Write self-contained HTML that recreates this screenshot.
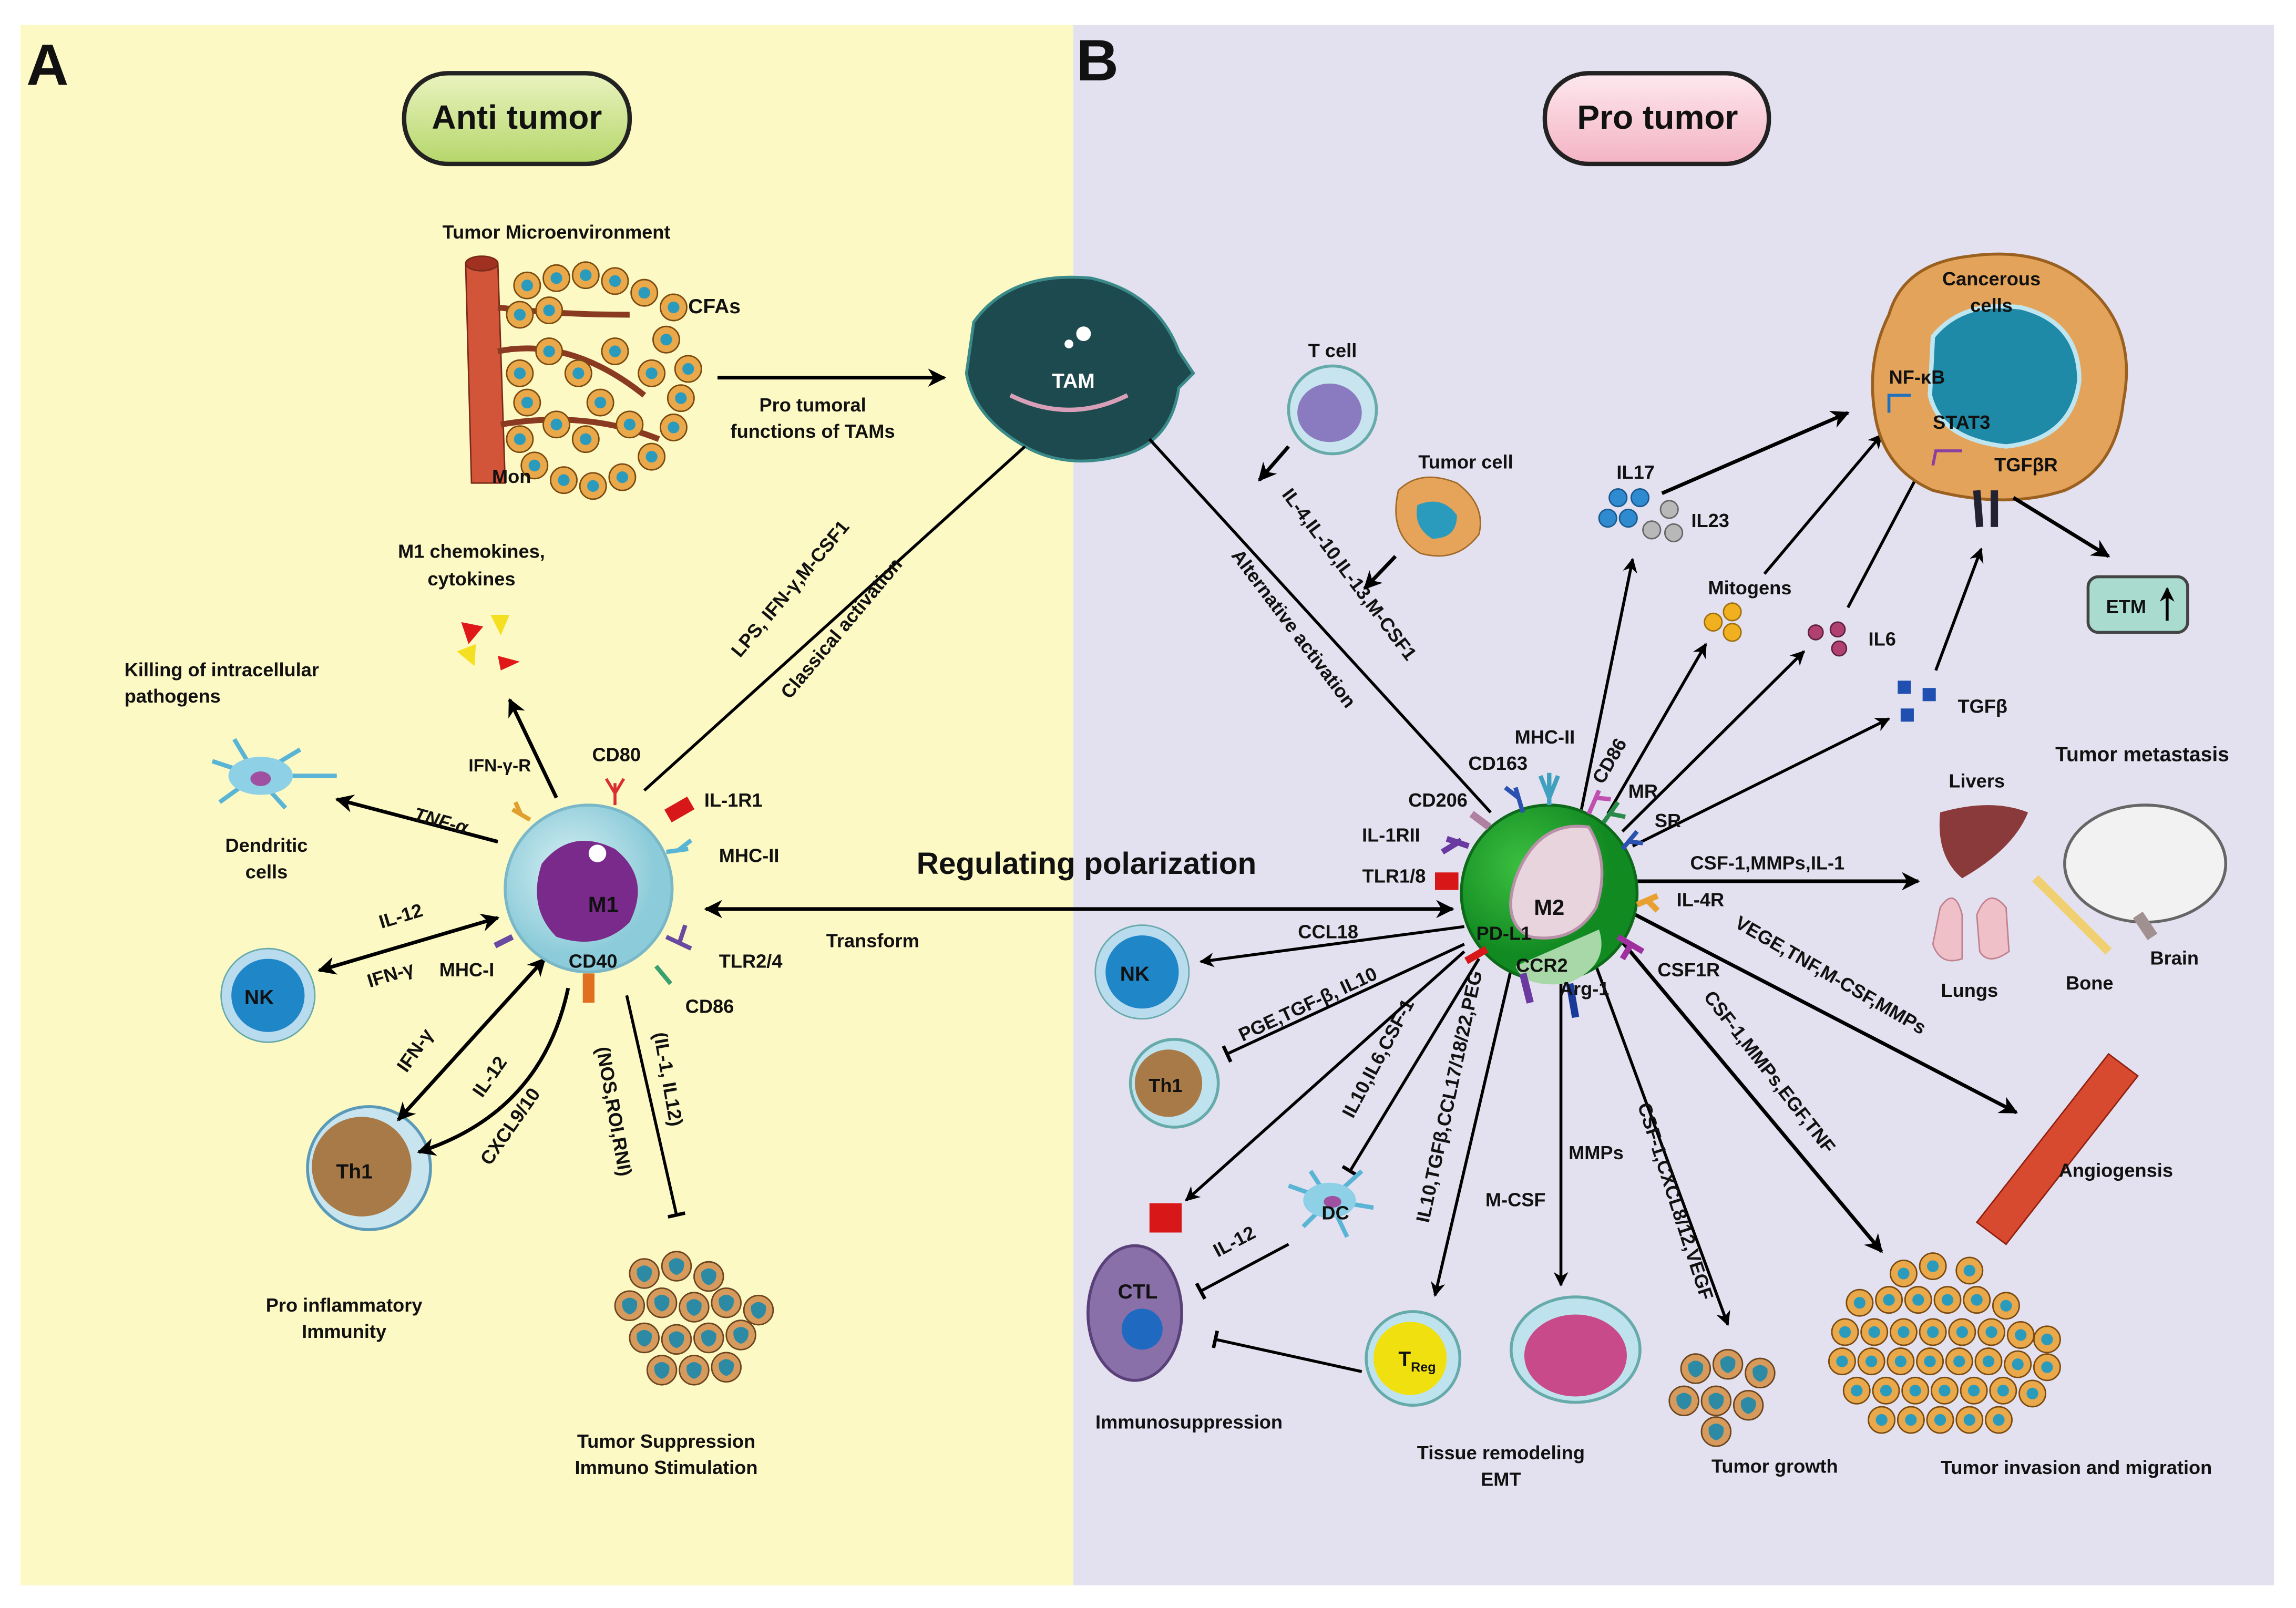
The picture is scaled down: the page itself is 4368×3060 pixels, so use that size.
<!DOCTYPE html>
<html><head><meta charset="utf-8"><style>
html,body{margin:0;padding:0;background:#fff}
svg{display:block}
text{font-family:"Liberation Sans",sans-serif;font-weight:bold;fill:#111}
</style></head><body>
<svg width="4368" height="3060" viewBox="0 0 1568 1098.5" preserveAspectRatio="none" xmlns="http://www.w3.org/2000/svg">
<defs>
<marker id="a" viewBox="0 0 10 10" refX="9" refY="5" markerWidth="5" markerHeight="5" orient="auto-start-reverse"><path d="M0,0 L10,5 L0,10 L3,5z" fill="#000"/></marker>
<marker id="t" viewBox="0 0 10 10" refX="5" refY="5" markerWidth="6" markerHeight="6" orient="auto"><path d="M5,0 L5,10" stroke="#000" stroke-width="2"/></marker>
<radialGradient id="m1g" cx="40%" cy="40%"><stop offset="0" stop-color="#d8f0f4"/><stop offset="1" stop-color="#8ccbd9"/></radialGradient>
<radialGradient id="m2g" cx="35%" cy="35%"><stop offset="0" stop-color="#3cc040"/><stop offset="1" stop-color="#128a22"/></radialGradient>
<linearGradient id="ag" x1="0" y1="0" x2="0" y2="1"><stop offset="0" stop-color="#eaf3c0"/><stop offset="1" stop-color="#b5d66a"/></linearGradient>
<linearGradient id="pg" x1="0" y1="0" x2="0" y2="1"><stop offset="0" stop-color="#fde8ee"/><stop offset="1" stop-color="#f4b3c4"/></linearGradient>
<g id="tc"><circle r="9" fill="#e9a84a" stroke="#7a4a10" stroke-width="1"/><circle r="4" fill="#2a9bbd"/></g>
<g id="tc2"><circle r="10" fill="#d59a5c" stroke="#6b4520" stroke-width="1"/><path d="M-5,-3 Q0,-8 5,-3 Q6,4 0,6 Q-6,4 -5,-3z" fill="#2d8aa5"/></g>
</defs>
<rect x="0" y="0" width="1568" height="1098.5" fill="#fff"/>
<rect x="14" y="17" width="719" height="1066" fill="#fdf9c5"/>
<rect x="733" y="17" width="820" height="1066" fill="#e3e1ef"/>
<text x="18" y="58" font-size="40">A</text>
<text x="735" y="55" font-size="40">B</text>
<rect x="276" y="50" width="154" height="62" rx="30" fill="url(#ag)" stroke="#222" stroke-width="3"/>
<text x="353" y="88" font-size="23" text-anchor="middle">Anti tumor</text>
<rect x="1055" y="50" width="153" height="62" rx="30" fill="url(#pg)" stroke="#222" stroke-width="3"/>
<text x="1132" y="88" font-size="23" text-anchor="middle">Pro tumor</text>

<!-- TME -->
<text x="380" y="163" font-size="13" text-anchor="middle">Tumor Microenvironment</text>
<path d="M318,180 L340,180 L345,330 L322,330 Z" fill="#d2553a" stroke="#7a2a18"/>
<ellipse cx="329" cy="180" rx="11" ry="5" fill="#a03020" stroke="#7a2a18"/>
<g stroke="#8a3a20" stroke-width="4" fill="none"><path d="M340,240 Q390,230 440,270"/><path d="M342,290 Q400,280 450,300"/><path d="M340,210 Q380,215 430,215"/></g>
<g>
<use href="#tc" x="360" y="195"/><use href="#tc" x="380" y="190"/><use href="#tc" x="400" y="188"/><use href="#tc" x="420" y="192"/><use href="#tc" x="440" y="200"/><use href="#tc" x="460" y="210"/>
<use href="#tc" x="355" y="215"/><use href="#tc" x="375" y="212"/><use href="#tc" x="455" y="232"/><use href="#tc" x="470" y="252"/><use href="#tc" x="465" y="272"/><use href="#tc" x="460" y="292"/>
<use href="#tc" x="355" y="255"/><use href="#tc" x="360" y="275"/><use href="#tc" x="355" y="300"/><use href="#tc" x="365" y="318"/><use href="#tc" x="385" y="328"/><use href="#tc" x="405" y="332"/>
<use href="#tc" x="425" y="326"/><use href="#tc" x="445" y="312"/><use href="#tc" x="375" y="240"/><use href="#tc" x="395" y="255"/><use href="#tc" x="420" y="240"/><use href="#tc" x="430" y="290"/>
<use href="#tc" x="400" y="300"/><use href="#tc" x="445" y="255"/><use href="#tc" x="380" y="290"/><use href="#tc" x="410" y="275"/>
</g>
<text x="470" y="214" font-size="14">CFAs</text>
<text x="336" y="330" font-size="13">Mon</text>
<line x1="490" y1="258" x2="645" y2="258" stroke="#000" stroke-width="2.5" marker-end="url(#a)"/>
<text x="555" y="281" font-size="13" text-anchor="middle">Pro tumoral</text>
<text x="555" y="299" font-size="13" text-anchor="middle">functions of TAMs</text>

<!-- TAM -->
<path d="M665,220 Q690,185 745,190 Q790,200 805,240 L815,255 L805,265 Q800,300 770,310 Q730,322 700,305 Q665,285 660,255 Z" fill="#1d4a4e" stroke="#3a8a8a" stroke-width="2"/>
<path d="M690,270 Q730,290 770,270" stroke="#d8a0b8" stroke-width="3" fill="none"/>
<circle cx="740" cy="228" r="5" fill="#fff"/><circle cx="730" cy="235" r="3" fill="#fff"/>
<text x="733" y="265" font-size="14" text-anchor="middle" style="fill:#fff">TAM</text>

<line x1="700" y1="305" x2="440" y2="540" stroke="#000" stroke-width="2"/>
<text transform="translate(543,405) rotate(-50)" font-size="13" text-anchor="middle">LPS, IFN-γ,M-CSF1</text>
<text transform="translate(578,432) rotate(-50)" font-size="13" text-anchor="middle">Classical activation</text>
<line x1="785" y1="300" x2="1018" y2="555" stroke="#000" stroke-width="2"/>
<text transform="translate(918,395) rotate(53)" font-size="13" text-anchor="middle">IL-4,IL-10,IL-13,M-CSF1</text>
<text transform="translate(880,432) rotate(53)" font-size="13" text-anchor="middle">Alternative activation</text>

<!-- Left side -->
<text x="322" y="381" font-size="13" text-anchor="middle">M1 chemokines,</text>
<text x="322" y="400" font-size="13" text-anchor="middle">cytokines</text>
<polygon points="315,425 330,428 320,440" fill="#e01818"/><polygon points="335,420 348,420 342,434" fill="#f4e020"/>
<polygon points="312,445 325,440 324,455" fill="#f4e020"/><polygon points="340,448 355,452 342,458" fill="#e01818"/>
<line x1="380" y1="545" x2="348" y2="478" stroke="#000" stroke-width="2.5" marker-end="url(#a)"/>
<text x="85" y="462" font-size="13">Killing of intracellular</text>
<text x="85" y="480" font-size="13">pathogens</text>
<g stroke="#5ab5d5" stroke-width="3" fill="none"><path d="M175,530 L145,520"/><path d="M175,530 L160,505"/><path d="M175,530 L205,512"/><path d="M175,530 L230,530"/><path d="M175,530 L195,552"/><path d="M175,530 L150,548"/></g>
<ellipse cx="178" cy="530" rx="22" ry="13" fill="#8ed0e6"/><ellipse cx="178" cy="532" rx="7" ry="5" fill="#a050a0"/>
<text x="182" y="582" font-size="13" text-anchor="middle">Dendritic</text>
<text x="182" y="600" font-size="13" text-anchor="middle">cells</text>
<line x1="340" y1="575" x2="230" y2="546" stroke="#000" stroke-width="2.5" marker-end="url(#a)"/>
<text transform="translate(300,565) rotate(15)" font-size="13" text-anchor="middle" font-style="italic">TNF-α</text>

<circle cx="183" cy="680" r="32" fill="#b9dbee" stroke="#6aa"/><circle cx="183" cy="680" r="25" fill="#1f86c8"/>
<text x="177" y="686" font-size="14" text-anchor="middle">NK</text>
<line x1="218" y1="663" x2="340" y2="627" stroke="#000" stroke-width="2.5" marker-start="url(#a)" marker-end="url(#a)"/>
<text transform="translate(275,630) rotate(-17)" font-size="13" text-anchor="middle">IL-12</text>
<text transform="translate(268,670) rotate(-17)" font-size="13" text-anchor="middle">IFN-γ</text>

<circle cx="252" cy="798" r="42" fill="#c8e4ef" stroke="#5a9ab8" stroke-width="2"/><circle cx="247" cy="797" r="34" fill="#a87a48"/>
<text x="242" y="805" font-size="14" text-anchor="middle">Th1</text>
<line x1="372" y1="655" x2="272" y2="765" stroke="#000" stroke-width="2.5" marker-start="url(#a)" marker-end="url(#a)"/>
<path d="M388,675 Q370,760 286,787" stroke="#000" stroke-width="2.5" fill="none" marker-end="url(#a)"/>
<text transform="translate(287,720) rotate(-55)" font-size="13" text-anchor="middle">IFN-γ</text>
<text transform="translate(338,738) rotate(-55)" font-size="13" text-anchor="middle">IL-12</text>
<text transform="translate(352,772) rotate(-55)" font-size="13" text-anchor="middle">CXCL9/10</text>
<text x="235" y="896" font-size="13" text-anchor="middle">Pro inflammatory</text>
<text x="235" y="914" font-size="13" text-anchor="middle">Immunity</text>

<line x1="428" y1="680" x2="462" y2="830" stroke="#000" stroke-width="2" marker-end="url(#t)"/>
<text transform="translate(415,760) rotate(80)" font-size="13" text-anchor="middle">(NOS,ROI,RNI)</text>
<text transform="translate(452,738) rotate(80)" font-size="13" text-anchor="middle">(IL-1, IL12)</text>
<g>
<use href="#tc2" x="440" y="870"/><use href="#tc2" x="462" y="865"/><use href="#tc2" x="484" y="872"/><use href="#tc2" x="430" y="892"/><use href="#tc2" x="452" y="890"/><use href="#tc2" x="474" y="893"/><use href="#tc2" x="496" y="890"/><use href="#tc2" x="518" y="895"/><use href="#tc2" x="440" y="914"/><use href="#tc2" x="462" y="915"/><use href="#tc2" x="484" y="914"/><use href="#tc2" x="506" y="912"/><use href="#tc2" x="452" y="936"/><use href="#tc2" x="474" y="936"/><use href="#tc2" x="496" y="934"/>
</g>
<text x="455" y="989" font-size="13" text-anchor="middle">Tumor Suppression</text>
<text x="455" y="1007" font-size="13" text-anchor="middle">Immuno Stimulation</text>

<!-- M1 -->
<circle cx="402" cy="607" r="57" fill="url(#m1g)" stroke="#7ab8c8" stroke-width="2"/>
<path d="M370,590 Q390,565 420,580 Q445,600 430,630 Q410,650 380,640 Q360,620 370,590z" fill="#7a2a8a"/>
<circle cx="408" cy="583" r="6" fill="#fff"/>
<text x="412" y="623" font-size="15" text-anchor="middle">M1</text>
<path d="M420,550 L420,535 M420,542 L414,532 M420,542 L426,532" stroke="#d83030" stroke-width="2" fill="none"/>
<rect x="455" y="548" width="18" height="10" fill="#d81818" transform="rotate(-30 464 553)"/>
<path d="M455,582 L470,580 M463,581 L472,574" stroke="#5ab5d5" stroke-width="3"/>
<path d="M455,640 L472,648 M464,644 L468,632" stroke="#6a4aa0" stroke-width="3"/>
<path d="M448,660 L458,672" stroke="#3aa070" stroke-width="3"/>
<rect x="398" y="665" width="8" height="20" fill="#e07020"/>
<path d="M350,640 L338,646" stroke="#6a4aa0" stroke-width="4"/>
<path d="M362,560 L350,553 M356,557 L352,548" stroke="#e0a030" stroke-width="3"/>
<text x="421" y="520" font-size="13" text-anchor="middle">CD80</text>
<text x="481" y="551" font-size="13">IL-1R1</text>
<text x="491" y="589" font-size="13">MHC-II</text>
<text x="491" y="661" font-size="13">TLR2/4</text>
<text x="468" y="692" font-size="13">CD86</text>
<text x="405" y="661" font-size="13" text-anchor="middle">CD40</text>
<text x="300" y="667" font-size="13">MHC-I</text>
<text x="320" y="527" font-size="12">IFN-γ-R</text>

<!-- Transform -->
<line x1="482" y1="621" x2="992" y2="621" stroke="#000" stroke-width="2.5" marker-start="url(#a)" marker-end="url(#a)"/>
<text x="742" y="597" font-size="21" text-anchor="middle">Regulating polarization</text>
<text x="596" y="647" font-size="13" text-anchor="middle">Transform</text>

<!-- Right: T cell, tumor cell -->
<text x="910" y="244" font-size="13" text-anchor="middle">T cell</text>
<circle cx="910" cy="280" r="30" fill="#c8e4ef" stroke="#6aa" stroke-width="2"/><ellipse cx="908" cy="282" rx="22" ry="20" fill="#8a7ac0"/>
<line x1="880" y1="305" x2="860" y2="328" stroke="#000" stroke-width="2.5" marker-end="url(#a)"/>
<text x="1001" y="320" font-size="13" text-anchor="middle">Tumor cell</text>
<path d="M955,335 Q970,320 995,330 Q1015,345 1010,365 Q995,385 970,378 Q948,365 955,335z" fill="#e6a45a" stroke="#a06a2a"/>
<path d="M968,345 Q985,338 995,352 Q995,368 978,368 Q965,360 968,345z" fill="#2a9bbd"/>
<line x1="953" y1="380" x2="932" y2="402" stroke="#000" stroke-width="2.5" marker-end="url(#a)"/>

<!-- cytokines -->
<text x="1117" y="327" font-size="13" text-anchor="middle">IL17</text>
<g fill="#2f8ad0" stroke="#1a5a90"><circle cx="1105" cy="340" r="6"/><circle cx="1120" cy="340" r="6"/><circle cx="1112" cy="354" r="6"/><circle cx="1098" cy="354" r="6"/></g>
<g fill="#b8b8b8" stroke="#666"><circle cx="1140" cy="348" r="6"/><circle cx="1128" cy="362" r="6"/><circle cx="1143" cy="364" r="6"/></g>
<text x="1155" y="360" font-size="13">IL23</text>
<line x1="1080" y1="553" x2="1115" y2="382" stroke="#000" stroke-width="2" marker-end="url(#a)"/>
<line x1="1135" y1="337" x2="1262" y2="282" stroke="#000" stroke-width="2.5" marker-end="url(#a)"/>
<text x="1195" y="406" font-size="13" text-anchor="middle">Mitogens</text>
<g fill="#f0b020" stroke="#a07010"><circle cx="1170" cy="425" r="6"/><circle cx="1183" cy="418" r="6"/><circle cx="1183" cy="432" r="6"/></g>
<line x1="1098" y1="556" x2="1165" y2="440" stroke="#000" stroke-width="2" marker-end="url(#a)"/>
<line x1="1205" y1="392" x2="1285" y2="297" stroke="#000" stroke-width="2" marker-end="url(#a)"/>
<g fill="#b04070" stroke="#602040"><circle cx="1240" cy="432" r="5"/><circle cx="1255" cy="430" r="5"/><circle cx="1256" cy="443" r="5"/></g>
<text x="1276" y="441" font-size="13">IL6</text>
<line x1="1108" y1="568" x2="1232" y2="445" stroke="#000" stroke-width="2" marker-end="url(#a)"/>
<line x1="1262" y1="415" x2="1320" y2="305" stroke="#000" stroke-width="2" marker-end="url(#a)"/>
<g fill="#1f4fb0"><rect x="1296" y="465" width="9" height="9"/><rect x="1313" y="470" width="9" height="9"/><rect x="1298" y="484" width="9" height="9"/></g>
<text x="1337" y="487" font-size="13">TGFβ</text>
<line x1="1115" y1="578" x2="1290" y2="491" stroke="#000" stroke-width="2" marker-end="url(#a)"/>
<line x1="1322" y1="458" x2="1353" y2="375" stroke="#000" stroke-width="2" marker-end="url(#a)"/>

<!-- Cancerous cell -->
<path d="M1290,215 Q1300,180 1345,175 Q1395,168 1425,195 Q1460,225 1450,275 Q1445,320 1410,335 Q1370,348 1320,335 Q1285,320 1280,280 Q1275,245 1290,215z" fill="#e4a35a" stroke="#9a6020" stroke-width="2"/>
<path d="M1320,230 Q1340,205 1380,210 Q1420,220 1420,260 Q1415,300 1370,305 Q1325,300 1318,270z" fill="#1e8aa8" stroke="#bfe6f0" stroke-width="3"/>
<text x="1360" y="195" font-size="13" text-anchor="middle">Cancerous</text>
<text x="1360" y="213" font-size="13" text-anchor="middle">cells</text>
<text x="1290" y="262" font-size="13">NF-κB</text>
<path d="M1290,282 L1290,270 L1305,270" stroke="#2070c0" stroke-width="2" fill="none"/>
<text x="1320" y="293" font-size="13">STAT3</text>
<path d="M1320,318 L1322,308 L1340,308" stroke="#8a40a0" stroke-width="2" fill="none"/>
<text x="1362" y="322" font-size="13">TGFβR</text>
<path d="M1350,335 L1352,360 M1362,335 L1362,360" stroke="#223" stroke-width="5"/>
<line x1="1375" y1="340" x2="1440" y2="380" stroke="#000" stroke-width="2.5" marker-end="url(#a)"/>
<rect x="1426" y="394" width="68" height="38" rx="7" fill="#a9dccf" stroke="#444" stroke-width="2"/>
<text x="1452" y="419" font-size="13" text-anchor="middle">ETM</text>
<line x1="1480" y1="424" x2="1480" y2="402" stroke="#000" stroke-width="2" marker-end="url(#a)"/>

<!-- Metastasis -->
<text x="1463" y="520" font-size="14" text-anchor="middle">Tumor metastasis</text>
<text x="1350" y="538" font-size="13" text-anchor="middle">Livers</text>
<path d="M1325,555 Q1360,545 1385,555 Q1375,580 1340,600 Q1322,585 1325,555z" fill="#8a3a3a"/>
<path d="M1325,620 Q1335,605 1340,625 L1340,655 Q1325,660 1320,645z M1350,625 Q1358,605 1370,620 L1372,650 Q1358,660 1352,650z" fill="#f0c0c8" stroke="#c08090"/>
<text x="1345" y="681" font-size="13" text-anchor="middle">Lungs</text>
<path d="M1390,600 L1440,650" stroke="#f0d070" stroke-width="6"/>
<text x="1427" y="676" font-size="13" text-anchor="middle">Bone</text>
<ellipse cx="1465" cy="590" rx="55" ry="40" fill="#f2f2f2" stroke="#666" stroke-width="2"/>
<path d="M1460,625 L1470,640" stroke="#a09090" stroke-width="8"/>
<text x="1485" y="659" font-size="13" text-anchor="middle">Brain</text>
<line x1="1115" y1="602" x2="1310" y2="602" stroke="#000" stroke-width="2.5" marker-end="url(#a)"/>
<text x="1207" y="594" font-size="13" text-anchor="middle">CSF-1,MMPs,IL-1</text>
<line x1="1117" y1="625" x2="1377" y2="760" stroke="#000" stroke-width="2.5" marker-end="url(#a)"/>
<text transform="translate(1248,670) rotate(30)" font-size="13" text-anchor="middle">VEGE,TNF,M-CSF,MMPs</text>
<path d="M1350,835 L1440,720 L1460,735 L1370,850z" fill="#d84a30" stroke="#902010"/>
<text x="1445" y="804" font-size="13" text-anchor="middle">Angiogensis</text>
<line x1="1105" y1="640" x2="1285" y2="855" stroke="#000" stroke-width="2.5" marker-end="url(#a)"/>
<text transform="translate(1205,735) rotate(52)" font-size="13" text-anchor="middle">CSF-1,MMPs,EGF,TNF</text>
<g>
<use href="#tc" x="1300" y="870"/><use href="#tc" x="1320" y="865"/><use href="#tc" x="1345" y="868"/>
<use href="#tc" x="1270" y="890"/><use href="#tc" x="1290" y="888"/><use href="#tc" x="1310" y="888"/><use href="#tc" x="1330" y="888"/><use href="#tc" x="1350" y="888"/><use href="#tc" x="1370" y="892"/>
<use href="#tc" x="1260" y="910"/><use href="#tc" x="1280" y="910"/><use href="#tc" x="1300" y="910"/><use href="#tc" x="1320" y="910"/><use href="#tc" x="1340" y="910"/><use href="#tc" x="1360" y="910"/><use href="#tc" x="1380" y="912"/><use href="#tc" x="1398" y="915"/>
<use href="#tc" x="1258" y="930"/><use href="#tc" x="1278" y="930"/><use href="#tc" x="1298" y="930"/><use href="#tc" x="1318" y="930"/><use href="#tc" x="1338" y="930"/><use href="#tc" x="1358" y="930"/><use href="#tc" x="1378" y="932"/><use href="#tc" x="1398" y="934"/>
<use href="#tc" x="1268" y="950"/><use href="#tc" x="1288" y="950"/><use href="#tc" x="1308" y="950"/><use href="#tc" x="1328" y="950"/><use href="#tc" x="1348" y="950"/><use href="#tc" x="1368" y="950"/><use href="#tc" x="1388" y="952"/>
<use href="#tc" x="1285" y="970"/><use href="#tc" x="1305" y="970"/><use href="#tc" x="1325" y="970"/><use href="#tc" x="1345" y="970"/><use href="#tc" x="1365" y="970"/>
</g>
<text x="1418" y="1007" font-size="13" text-anchor="middle">Tumor invasion and migration</text>
<line x1="1090" y1="660" x2="1180" y2="905" stroke="#000" stroke-width="2" marker-end="url(#a)"/>
<text transform="translate(1140,822) rotate(72)" font-size="13" text-anchor="middle">CSF-1,CXCL8/12,VEGF</text>
<g><use href="#tc2" x="1158" y="935"/><use href="#tc2" x="1180" y="932"/><use href="#tc2" x="1202" y="938"/><use href="#tc2" x="1150" y="957"/><use href="#tc2" x="1172" y="957"/><use href="#tc2" x="1194" y="960"/><use href="#tc2" x="1172" y="978"/></g>
<text x="1212" y="1006" font-size="13" text-anchor="middle">Tumor growth</text>
<line x1="1066" y1="662" x2="1066" y2="878" stroke="#000" stroke-width="2" marker-start="url(#a)" marker-end="url(#a)"/>
<text x="1090" y="792" font-size="13" text-anchor="middle">MMPs</text>
<text x="1035" y="824" font-size="13" text-anchor="middle">M-CSF</text>
<ellipse cx="1076" cy="922" rx="44" ry="36" fill="#bfe2ef" stroke="#6aa" stroke-width="2"/><ellipse cx="1076" cy="926" rx="35" ry="28" fill="#c84a8a"/>
<line x1="1032" y1="662" x2="980" y2="885" stroke="#000" stroke-width="2" marker-end="url(#a)"/>
<text transform="translate(994,750) rotate(-78)" font-size="13" text-anchor="middle">IL10,TGFβ,CCL17/18/22,PEG</text>
<circle cx="965" cy="928" r="32" fill="#bfe2ef" stroke="#6aa" stroke-width="2"/><circle cx="963" cy="928" r="25" fill="#f0e010"/>
<text x="955" y="933" font-size="14">T<tspan font-size="9" dy="4">Reg</tspan></text>
<text x="1025" y="997" font-size="13" text-anchor="middle">Tissue remodeling</text>
<text x="1025" y="1015" font-size="13" text-anchor="middle">EMT</text>
<line x1="1010" y1="655" x2="922" y2="800" stroke="#000" stroke-width="2" marker-end="url(#t)"/>
<text transform="translate(945,725) rotate(-62)" font-size="13" text-anchor="middle">IL10,IL6,CSF-1</text>
<g stroke="#5ab5d5" stroke-width="3"><path d="M908,820 L880,810 M908,820 L895,800 M908,820 L930,800 M908,820 L938,825 M908,820 L920,845 M908,820 L890,838"/></g>
<ellipse cx="908" cy="820" rx="18" ry="12" fill="#8ed0e6"/><ellipse cx="910" cy="821" rx="6" ry="4" fill="#a050a0"/>
<text x="912" y="833" font-size="13" text-anchor="middle">DC</text>
<line x1="1000" y1="650" x2="810" y2="820" stroke="#000" stroke-width="2" marker-end="url(#a)"/>
<line x1="880" y1="850" x2="820" y2="882" stroke="#000" stroke-width="2" marker-end="url(#t)"/>
<text transform="translate(845,852) rotate(-28)" font-size="13" text-anchor="middle">IL-12</text>
<line x1="930" y1="937" x2="830" y2="915" stroke="#000" stroke-width="2" marker-end="url(#t)"/>
<ellipse cx="775" cy="897" rx="32" ry="46" fill="#8a70a8" stroke="#5a4078" stroke-width="2"/><circle cx="780" cy="908" r="14" fill="#1f6ac0"/>
<rect x="785" y="822" width="22" height="20" fill="#d81818"/>
<text x="777" y="887" font-size="14" text-anchor="middle">CTL</text>
<text x="812" y="976" font-size="13" text-anchor="middle">Immunosuppression</text>
<line x1="1000" y1="633" x2="820" y2="657" stroke="#000" stroke-width="2" marker-end="url(#a)"/>
<text x="907" y="641" font-size="13" text-anchor="middle">CCL18</text>
<circle cx="780" cy="664" r="32" fill="#b9dbee" stroke="#6aa"/><circle cx="780" cy="664" r="25" fill="#1f86c8"/>
<text x="775" y="670" font-size="14" text-anchor="middle">NK</text>
<line x1="1000" y1="645" x2="838" y2="720" stroke="#000" stroke-width="2" marker-end="url(#t)"/>
<text transform="translate(895,690) rotate(-25)" font-size="13" text-anchor="middle">PGE,TGF-β,  IL10</text>
<circle cx="802" cy="740" r="30" fill="#bfe2ef" stroke="#6aa" stroke-width="2"/><circle cx="798" cy="740" r="23" fill="#a87a48"/>
<text x="796" y="746" font-size="13" text-anchor="middle">Th1</text>

<!-- M2 -->
<circle cx="1058" cy="610" r="60" fill="url(#m2g)" stroke="#0d6a1a" stroke-width="2"/>
<path d="M1092,635 Q1100,660 1070,672 Q1040,675 1035,660" fill="#a8d8a8"/>
<path d="M1035,600 Q1050,560 1085,565 Q1100,590 1090,620 Q1075,645 1045,640 Q1025,630 1035,600z" fill="#e8d4dc" stroke="#b890a8" stroke-width="2"/>
<text x="1058" y="625" font-size="15" text-anchor="middle">M2</text>
<path d="M1058,550 L1058,528 M1058,545 L1052,530 M1058,545 L1064,530" stroke="#40a0c0" stroke-width="3"/>
<path d="M1040,555 L1035,538 M1037,545 L1028,538" stroke="#2a50b0" stroke-width="3"/>
<path d="M1085,556 L1092,540 M1090,545 L1100,546" stroke="#c050b0" stroke-width="3"/>
<path d="M1095,562 L1105,548 M1100,556 L1110,558" stroke="#2a8a4a" stroke-width="3"/>
<path d="M1108,580 L1118,568 M1113,575 L1122,576" stroke="#2a50b0" stroke-width="3"/>
<path d="M1017,565 L1005,556" stroke="#b080a0" stroke-width="5"/>
<path d="M1003,578 L988,573 M998,574 L985,582" stroke="#6a3aa0" stroke-width="4"/>
<rect x="980" y="596" width="16" height="12" fill="#d81818"/>
<path d="M1118,618 L1132,612 M1125,615 L1132,622" stroke="#e8a030" stroke-width="4"/>
<path d="M1105,640 L1122,650 M1114,645 L1108,655" stroke="#a030a0" stroke-width="4"/>
<rect x="1000" y="650" width="16" height="5" fill="#d81818" transform="rotate(-30 1008 652)"/>
<path d="M1040,665 L1045,685" stroke="#6a3aa0" stroke-width="5"/>
<path d="M1072,672 L1076,695" stroke="#1a3a9a" stroke-width="5"/>
<text x="1055" y="508" font-size="13" text-anchor="middle">MHC-II</text>
<text x="1023" y="526" font-size="13" text-anchor="middle">CD163</text>
<text transform="translate(1103,522) rotate(-60)" font-size="13" text-anchor="middle">CD86</text>
<text x="1112" y="545" font-size="13">MR</text>
<text x="1130" y="565" font-size="13">SR</text>
<text x="982" y="551" font-size="13" text-anchor="middle">CD206</text>
<text x="950" y="575" font-size="13" text-anchor="middle">IL-1RII</text>
<text x="952" y="603" font-size="13" text-anchor="middle">TLR1/8</text>
<text x="1145" y="619" font-size="13">IL-4R</text>
<text x="1027" y="642" font-size="13" text-anchor="middle">PD-L1</text>
<text x="1053" y="664" font-size="13" text-anchor="middle">CCR2</text>
<text x="1082" y="680" font-size="13" text-anchor="middle">Arg-1</text>
<text x="1132" y="667" font-size="13">CSF1R</text>
</svg>
</body></html>
